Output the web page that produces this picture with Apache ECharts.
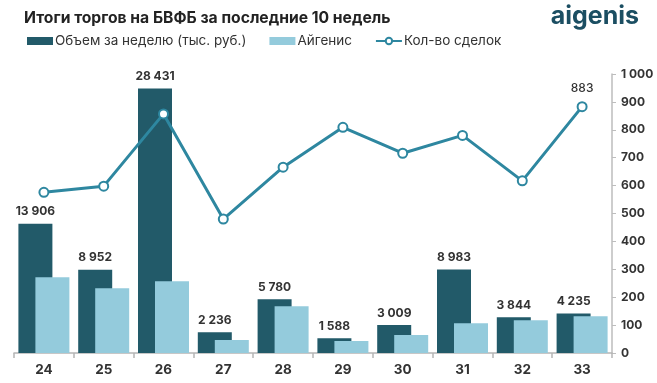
<!DOCTYPE html>
<html>
<head>
<meta charset="utf-8">
<script src="https://cdn.jsdelivr.net/npm/echarts@6/dist/echarts.min.js"></script>
<style>
html,body{margin:0;padding:0;background:#fff;}
#c{width:657px;height:383px;}
</style>
</head>
<body>
<div id="c"></div>
<script>
const weeks = ['24','25','26','27','28','29','30','31','32','33'];
const volume = [13906, 8952, 28431, 2236, 5780, 1588, 3009, 8983, 3844, 4235];
const aigenis = [8140, 6960, 7710, 1390, 5030, 1285, 1930, 3210, 3530, 3960];
const deals = [576, 598, 857, 480, 666, 809, 716, 780, 617, 883];
const dealTicks = [0, 100, 200, 300, 400, 500, 600, 700, 800, 900, 1000];

const FONT = 'Inter, "Open Sans", sans-serif';
function fmt(v){ return String(v).replace(/\B(?=(\d{3})+(?!\d))/g, ' '); }

const chart = echarts.init(document.getElementById('c'), null, {renderer:'canvas'});
chart.setOption({
  animation: false,
  textStyle: {fontFamily: FONT},
  title: {
    text: 'Итоги торгов на БВФБ за последние 10 недель',
    left: 19, top: 5,
    textStyle: {fontFamily: FONT, fontSize: 15.7, fontWeight: 'bold', color: '#222'}
  },
  graphic: [{
    type: 'text', right: 18, top: 4,
    style: {text: 'aigenis', font: 'bold 25px ' + FONT, fill: '#1b4e62'}
  }],
  legend: {
    left: 22, top: 29,
    itemWidth: 26, itemHeight: 8, itemGap: 23,
    textStyle: {fontFamily: FONT, fontSize: 13.5, color: '#333', padding: [0,0,0,-3]},
    data: [
      {name: 'Объем за неделю (тыс. руб.)', icon: 'rect'},
      {name: 'Айгенис', icon: 'rect'},
      {name: 'Кол-во сделок'}
    ]
  },
  grid: {left: 14, right: 45, top: 74, bottom: 30},
  xAxis: {
    type: 'category', data: weeks,
    axisLine: {lineStyle: {color: '#b5b5b5', width: 1.5}},
    axisTick: {show: true, alignWithLabel: false, length: 5, lineStyle: {color: '#b5b5b5', width: 1.5}},
    axisLabel: {fontFamily: FONT, fontSize: 13.5, fontWeight: 'bold', color: '#333', margin: 10}
  },
  yAxis: [
    {type: 'value', min: 0, max: 30000, show: false, splitLine: {show: false}},
    {type: 'value', position: 'right', min: dealTicks[0], max: dealTicks[dealTicks.length-1], interval: 100,
     axisLine: {show: true, lineStyle: {color: '#bdbdbd', width: 1.5}},
     axisTick: {show: true, length: 4, lineStyle: {color: '#bdbdbd'}},
     splitLine: {show: false},
     axisLabel: {fontFamily: FONT, fontSize: 12, fontWeight: 'bold', color: '#333', margin: 9, formatter: v => fmt(v)}
    }
  ],
  series: [
    {
      name: 'Объем за неделю (тыс. руб.)', type: 'bar', yAxisIndex: 0,
      data: volume, barWidth: 34, barGap: '-50%',
      itemStyle: {color: '#225a69'},
      label: {show: true, position: 'top', distance: 6, fontFamily: FONT, fontSize: 12, fontWeight: 'bold', color: '#333', formatter: p => fmt(p.value)}
    },
    {
      name: 'Айгенис', type: 'bar', yAxisIndex: 0,
      data: aigenis, barWidth: 34,
      itemStyle: {color: '#94cbdc'}
    },
    {
      name: 'Кол-во сделок', type: 'line', yAxisIndex: 1,
      data: deals, symbol: 'circle', symbolSize: 9,
      lineStyle: {color: '#2e87a0', width: 3},
      itemStyle: {color: '#ffffff', borderColor: '#2e87a0', borderWidth: 2},
      label: {show: true, position: 'top', distance: 7, fontFamily: FONT, fontSize: 12, fontWeight: 500, color: '#333',
        formatter: p => p.dataIndex === deals.length - 1 ? fmt(p.value) : ''},
      z: 5
    }
  ]
});
</script>
</body>
</html>
